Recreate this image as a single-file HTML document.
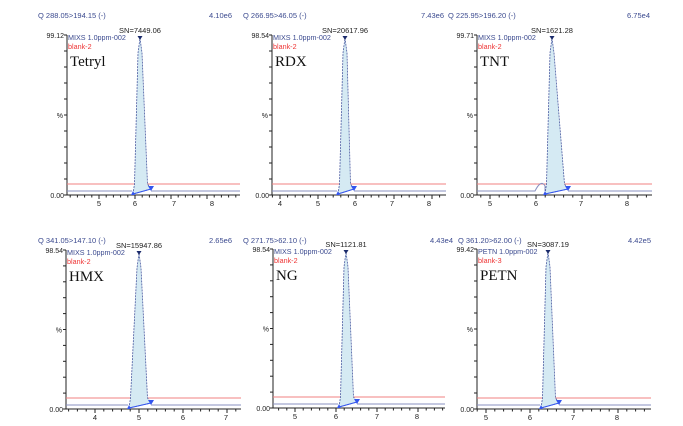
<!DOCTYPE html>
<html><head><meta charset="utf-8"><style>
html,body{margin:0;padding:0;background:#fff;}
svg{display:block;}
</style></head><body>
<svg id="s" width="683" height="426" xmlns="http://www.w3.org/2000/svg" font-family="Liberation Sans, sans-serif"></svg>
<script>
var P=[
{t:"Q 288.05>194.15 (-)",tx:38,r:"4.10e6",rx:232,ty:18,L:67,T:35,B:195,R:240,yl:"99.12",sn:"SN=7449.06",leg:"MIXS 1.0ppm-002",b:"blank-2",name:"Tetryl",ticks:[[5,99],[6,135],[7,174],[8,212]],pk:[133,140,151],bump:null},
{t:"Q 266.95>46.05 (-)",tx:243,r:"7.43e6",rx:444,ty:18,L:272,T:35,B:195,R:446,yl:"98.54",sn:"SN=20617.96",leg:"MIXS 1.0ppm-002",b:"blank-2",name:"RDX",ticks:[[4,280],[5,318],[6,355],[7,392],[8,429]],pk:[338,345,354],bump:null},
{t:"Q 225.95>196.20 (-)",tx:448,r:"6.75e4",rx:650,ty:18,L:477,T:35,B:195,R:652,yl:"99.71",sn:"SN=1621.28",leg:"MIXS 1.0ppm-002",b:"blank-2",name:"TNT",ticks:[[5,490],[6,536],[7,581],[8,627]],pk:[545,552,568],bump:541},
{t:"Q 341.05>147.10 (-)",tx:38,r:"2.65e6",rx:232,ty:243,L:66,T:250,B:409,R:241,yl:"98.54",sn:"SN=15947.86",leg:"MIXS 1.0ppm-002",b:"blank-2",name:"HMX",ticks:[[4,95],[5,139],[6,183],[7,226]],pk:[129,139,151],bump:null},
{t:"Q 271.75>62.10 (-)",tx:243,r:"4.43e4",rx:453,ty:243,L:273,T:249,B:408,R:445,yl:"98.54",sn:"SN=1121.81",leg:"MIXS 1.0ppm-002",b:"blank-2",name:"NG",ticks:[[5,295],[6,336],[7,377],[8,417]],pk:[339,346,357],bump:null},
{t:"Q 361.20>62.00 (-)",tx:458,r:"4.42e5",rx:651,ty:243,L:477,T:249,B:409,R:651,yl:"99.42",sn:"SN=3087.19",leg:"PETN 1.0ppm-002",b:"blank-3",name:"PETN",ticks:[[5,486],[6,530],[7,573],[8,617]],pk:[541,548,559],bump:null}
];
var h="",bl="#3b4a8f";
P.forEach(function(p){
 h+='<text x="'+p.tx+'" y="'+p.ty+'" font-size="7.5" fill="'+bl+'">'+p.t+'</text>';
 h+='<text x="'+p.rx+'" y="'+p.ty+'" font-size="7.5" fill="'+bl+'" text-anchor="end">'+p.r+'</text>';
 var H=p.B-p.T, red=p.B-11, blu=p.B-4;
 h+='<line x1="'+p.L+'" y1="'+p.T+'" x2="'+p.L+'" y2="'+p.B+'" stroke="#222" stroke-width="1"/>';
 h+='<line x1="'+p.L+'" y1="'+p.B+'" x2="'+p.R+'" y2="'+p.B+'" stroke="#222" stroke-width="1"/>';
 for(var i=0;i<=10;i++){var y=p.T+H*i/10;h+='<line x1="'+(p.L-3)+'" y1="'+y+'" x2="'+p.L+'" y2="'+y+'" stroke="#222"/>';}
 h+='<text x="'+(p.L-3)+'" y="'+(p.T+3)+'" font-size="7" fill="#222" text-anchor="end">'+p.yl+'</text>';
 h+='<text x="'+(p.L-3)+'" y="'+(p.B+3)+'" font-size="7" fill="#222" text-anchor="end">0.00</text>';
 h+='<text x="'+(p.L-4)+'" y="'+(p.T+H/2+3)+'" font-size="7" fill="#222" text-anchor="end">%</text>';
 var t=p.ticks, u=t[1][1]-t[0][1], x0=t[0][1]-u;
 for(var x=x0;x<=p.R;x+=u/5){if(x<p.L)continue;var f=((x-x0)/u)%1;var big=f<0.01||f>0.99;h+='<line x1="'+x+'" y1="'+p.B+'" x2="'+x+'" y2="'+(p.B+(big?4:2.5))+'" stroke="#222"/>';}
 t.forEach(function(k){h+='<text x="'+k[1]+'" y="'+(p.B+11)+'" font-size="7.5" fill="#222" text-anchor="middle">'+k[0]+'</text>';});
 h+='<line x1="'+p.L+'" y1="'+red+'" x2="'+p.R+'" y2="'+red+'" stroke="#f08080" stroke-width="1"/>';
 var a=p.pk[0],c=p.pk[1],e=p.pk[2],top=p.T+3;
 var bd='M'+p.L+','+blu+' L'+(a-1)+','+blu;
 if(p.bump){bd='M'+p.L+','+blu+' L'+(p.bump-6)+','+blu+' Q'+p.bump+','+(blu-12)+' '+(p.bump+4)+','+(blu-5)+' L'+a+','+blu;}
 h+='<path d="'+bd+'" stroke="#8a90c0" fill="none"/>';
 h+='<path d="M'+(e)+','+blu+' L'+p.R+','+blu+'" stroke="#8a90c0" fill="none"/>';
 var pth='M'+a+','+(p.B-1)+' L'+(a+1.5)+','+(red)+' L'+(c-2)+','+(top+15)+' L'+c+','+top+' L'+(c+2)+','+(top+15)+' L'+(e-3.5)+','+(red)+' L'+e+','+(blu-2)+' Z';
 h+='<path d="'+pth+'" fill="#d5eaf3" stroke="#4a5aa0" stroke-width="0.8" stroke-dasharray="2,1"/>';
 h+='<line x1="'+a+'" y1="'+(p.B-1)+'" x2="'+e+'" y2="'+(blu-2)+'" stroke="#3355ee" stroke-width="1"/>';
 h+='<path d="M'+(a-2)+','+(p.B)+' L'+a+','+(p.B-4)+' L'+(a+2)+','+p.B+' Z" fill="#3355ee"/>';
 h+='<path d="M'+(e-3)+','+(blu-5)+' L'+(e+3)+','+(blu-5)+' L'+e+','+(blu)+' Z" fill="#3355ee"/>';
 h+='<path d="M'+(c-2.5)+','+(top-2)+' L'+(c+2.5)+','+(top-2)+' L'+c+','+(top+2)+' Z" fill="#1a2a6a"/>';
 h+='<text x="'+c+'" y="'+(p.T-2)+'" font-size="7.5" fill="#222" text-anchor="middle">'+p.sn+'</text>';
 h+='<text x="'+(p.L+1)+'" y="'+(p.T+5)+'" font-size="7.2" fill="'+bl+'">'+p.leg+'</text>';
 h+='<text x="'+(p.L+1)+'" y="'+(p.T+14)+'" font-size="7.2" fill="#ee3333">'+p.b+'</text>';
 h+='<text x="'+(p.L+3)+'" y="'+(p.T+31)+'" font-size="15" fill="#111" font-family="Liberation Serif, serif">'+p.name+'</text>';
});
document.getElementById("s").innerHTML=h;
</script>
</body></html>
